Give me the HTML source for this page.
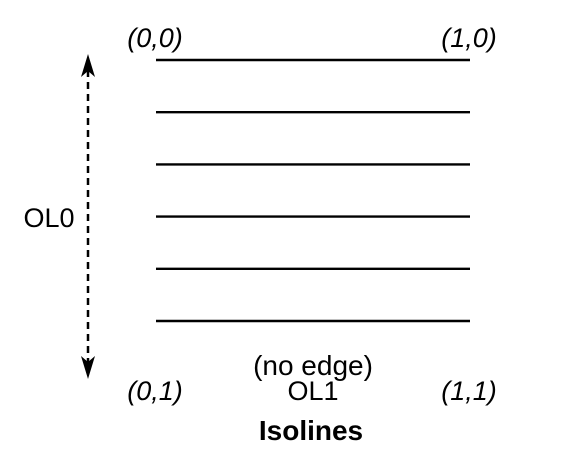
<!DOCTYPE html>
<html><head><meta charset="utf-8"><style>
html,body{margin:0;padding:0;background:#fff;}
svg{display:block;font-family:"Liberation Sans",sans-serif;}
</style></head><body>
<svg width="586" height="459" viewBox="0 0 586 459">
<g id="lines"></g>
<g>
<line x1="88" y1="70" x2="88" y2="362" stroke="#000" stroke-width="2.5" stroke-dasharray="7,5"/>
<path d="M88,54 L81,77 L88,71 L95,77 Z" fill="#000"/>
<path d="M88,379 L81,356 L88,362 L95,356 Z" fill="#000"/>
</g>
<text x="155" y="47" text-anchor="middle" font-size="27" font-style="italic">(0,0)</text>
<text x="469" y="47" text-anchor="middle" font-size="27" font-style="italic">(1,0)</text>
<text x="155" y="400" text-anchor="middle" font-size="27" font-style="italic">(0,1)</text>
<text x="469" y="400" text-anchor="middle" font-size="27" font-style="italic">(1,1)</text>
<text x="49" y="227" text-anchor="middle" font-size="27">OL0</text>
<text x="313" y="375" text-anchor="middle" font-size="28">(no edge)</text>
<text x="313" y="400" text-anchor="middle" font-size="27">OL1</text>
<text x="311" y="440" text-anchor="middle" font-size="28" font-weight="bold">Isolines</text>
</svg>
<script>
const lineFractions = [0, 1, 2, 3, 4, 5];
const g = document.getElementById('lines');
const y0 = 60, step = 52.2;
lineFractions.forEach(function(v){
  const l = document.createElementNS('http://www.w3.org/2000/svg','line');
  l.setAttribute('x1',156); l.setAttribute('x2',470);
  l.setAttribute('y1',y0+v*step); l.setAttribute('y2',y0+v*step);
  l.setAttribute('stroke','#000'); l.setAttribute('stroke-width','2.4');
  
  
  g.appendChild(l);
});
</script>
</body></html>
